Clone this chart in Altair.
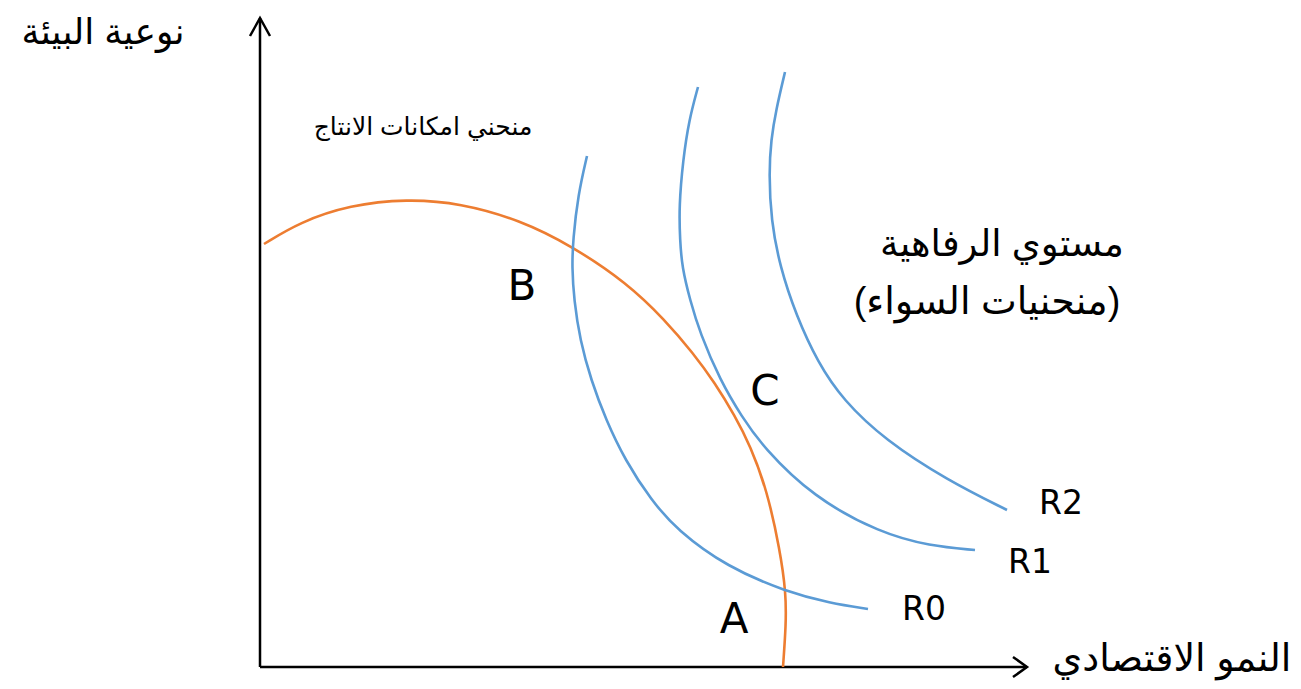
import altair as alt
import pandas as pd

# ---- curve data (diagram units, origin at the axes' corner) ----
ppf_x = [4, 40, 90, 147, 200, 260, 312, 367, 405, 433, 455, 475, 490, 507, 520, 526, 526, 523]
ppf_y = [423, 445, 462, 468, 464, 447, 421, 384, 347, 314, 284, 251, 222, 177, 117, 74, 42, 0]

r0_x = [327, 318, 313, 312, 314, 320, 331, 346, 365, 391, 417, 467, 527, 570, 608]
r0_y = [511, 472, 427, 400, 367, 327, 287, 247, 207, 167, 137, 100, 75, 64, 58]

r1_x = [438, 429, 423, 419, 420, 422, 430, 440, 460, 482, 503, 553, 620, 670, 715]
r1_y = [580, 547, 507, 460, 427, 400, 367, 334, 287, 250, 220, 170, 134, 121, 117]

r2_x = [525, 516, 511, 509, 511, 520, 536, 558, 583, 625, 687, 747]
r2_y = [595, 557, 527, 494, 447, 400, 352, 304, 267, 227, 187, 157]

# axes with open arrow heads
axis_seg = ["yaxis", "yaxis", "yhead", "yhead", "yhead", "xaxis", "xaxis", "xhead", "xhead", "xhead"]
axis_x = [0, 0, -10, 0, 10, 0, 767, 753, 767, 753]
axis_y = [0, 649, 631, 649, 631, 0, 0, 10, 0, -10]

# labels
ar_text = ["نوعية البيئة", "منحني امكانات الانتاج", "مستوي الرفاهية", "(منحنيات السواء)", "النمو الاقتصادي"]
ar_x = [-157, 163, 742, 727, 912]
ar_y = [634, 540, 422, 364, 7]
ar_size = [36, 25, 37, 38, 38]

lat_text = ["B", "C", "A", "R2", "R1", "R0"]
lat_x = [262, 505, 474, 801, 770, 664]
lat_y = [380, 275, 47, 163, 104, 57]
lat_size = [42, 42, 42, 33, 33, 33]

rows = []
for name, xs, ys in [("PPF", ppf_x, ppf_y), ("R0", r0_x, r0_y), ("R1", r1_x, r1_y), ("R2", r2_x, r2_y)]:
    for i, (a, b) in enumerate(zip(xs, ys)):
        rows.append({"series": name, "x": a, "y": b, "o": i})
curves = pd.DataFrame(rows)

axes_df = pd.DataFrame({"seg": axis_seg, "x": axis_x, "y": axis_y, "o": list(range(len(axis_x)))})
ar_df = pd.DataFrame({"t": ar_text, "x": ar_x, "y": ar_y, "s": ar_size})
lat_df = pd.DataFrame({"t": lat_text, "x": lat_x, "y": lat_y, "s": lat_size})

xs = alt.Scale(domain=[-252, 1033], nice=False, zero=False)
ys = alt.Scale(domain=[-14, 659], nice=False, zero=False)

X = lambda: alt.X("x:Q", scale=xs, axis=None)
Y = lambda: alt.Y("y:Q", scale=ys, axis=None)

curve_layer = alt.Chart(curves).mark_line(strokeWidth=2.6, interpolate="basis").encode(
    x=X(), y=Y(), order="o:Q", detail="series:N",
    color=alt.Color("series:N", legend=None,
                    scale=alt.Scale(domain=["PPF", "R0", "R1", "R2"],
                                    range=["#ED7D31", "#5B9BD5", "#5B9BD5", "#5B9BD5"])),
)

axes_layer = alt.Chart(axes_df).mark_line(strokeWidth=2.5, color="black", strokeCap="butt").encode(
    x=X(), y=Y(), order="o:Q", detail="seg:N"
)

ar_layer = alt.Chart(ar_df).mark_text(font="Liberation Sans, Arial, DejaVu Sans", align="center",
                                      baseline="middle", color="black").encode(
    x=X(), y=Y(), text="t:N", size=alt.Size("s:Q", scale=None, legend=None)
)

lat_layer = alt.Chart(lat_df).mark_text(font="DejaVu Sans", align="center",
                                        baseline="middle", color="black").encode(
    x=X(), y=Y(), text="t:N", size=alt.Size("s:Q", scale=None, legend=None)
)

chart = alt.layer(axes_layer, curve_layer, ar_layer, lat_layer).properties(
    width=1285, height=673, padding=0, autosize=alt.AutoSizeParams(type="none")
).configure(
    background="white",
    view=alt.ViewConfig(stroke="transparent", strokeWidth=0),
)

chart.save("out.html", embed_options={"renderer": "svg", "actions": False})
